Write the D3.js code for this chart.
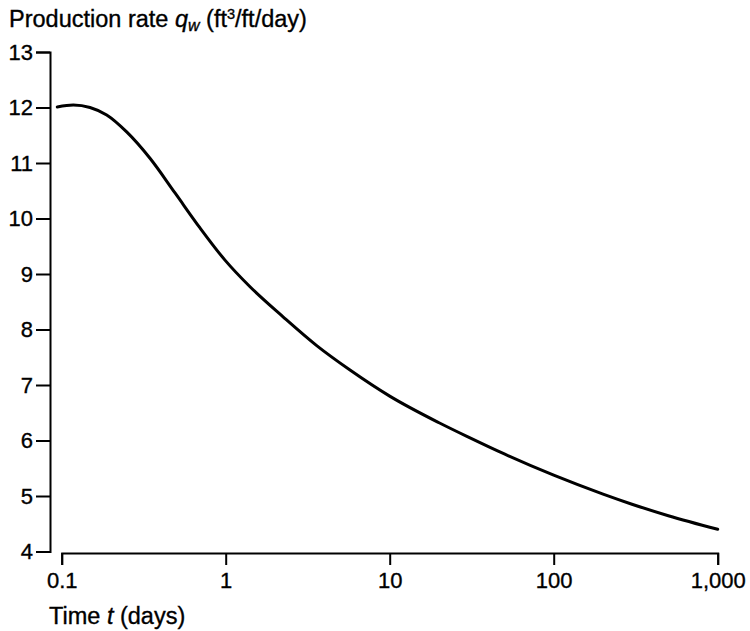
<!DOCTYPE html>
<html>
<head>
<meta charset="utf-8">
<script src="https://cdn.jsdelivr.net/npm/d3@7"></script>
<style>
  html, body { margin: 0; padding: 0; background: #fff; }
  svg { display: block; }
  text { font-family: "Liberation Sans", Arial, Helvetica, sans-serif; fill: #000; stroke: #000; stroke-width: 0.35px; }
</style>
</head>
<body>
<svg id="chart" width="750" height="631"></svg>
<script>
// Data
const timeDays = [0.094, 0.1177, 0.1488, 0.1881, 0.249, 0.3454, 0.4909, 0.6972, 0.99, 1.407, 2.245, 3.588, 5.728, 10, 20, 30, 50, 100, 200, 300, 500, 1000];
const rateQw   = [12.01, 12.045, 12.0, 11.865, 11.56, 11.085, 10.46, 9.83, 9.25, 8.77, 8.225, 7.71, 7.27, 6.80, 6.32, 6.065, 5.757, 5.375, 5.034, 4.852, 4.645, 4.40];
const xTicks = [0.1, 1, 10, 100, 1000];
const xTickLabels = ["0.1", "1", "10", "100", "1,000"];
const yTicks = [4, 5, 6, 7, 8, 9, 10, 11, 12, 13];

const svg = d3.select("#chart");
const tickFs = 22;
const labelFs = 23.5;

const x = d3.scaleLog().domain([0.1, 1000]).range([61.7, 717.7]);
const y = d3.scaleLinear().domain([4, 13]).range([551.5, 52]);

// Y axis
const yAxis = d3.axisLeft(y).tickValues(yTicks).tickFormat(d3.format("d")).tickSize(14).tickPadding(3);
const gy = svg.append("g").attr("transform", "translate(50,0)").call(yAxis);
gy.selectAll("path, line").attr("stroke", "#000").attr("stroke-width", 2);
gy.selectAll("text").style("font-size", tickFs + "px").attr("fill", "#000");

// X axis
const xAxis = d3.axisBottom(x).tickValues(xTicks).tickFormat((d, i) => xTickLabels[i]).tickSize(12).tickPadding(7);
const gx = svg.append("g").attr("transform", "translate(0,553)").call(xAxis);
gx.selectAll("path, line").attr("stroke", "#000").attr("stroke-width", 2);
gx.selectAll("text").style("font-size", tickFs + "px").attr("fill", "#000");

// Curve
const line = d3.line().x((d, i) => x(timeDays[i])).y((d, i) => y(rateQw[i])).curve(d3.curveMonotoneX);
svg.append("path").datum(rateQw).attr("d", line)
  .attr("fill", "none").attr("stroke", "#000").attr("stroke-width", 3).attr("stroke-linecap", "round");

// Title (y label)
const title = svg.append("text").attr("x", 9).attr("y", 27).style("font-size", labelFs + "px");
title.append("tspan").text("Production rate ");
title.append("tspan").style("font-style", "italic").text("q");
title.append("tspan").style("font-style", "italic").style("font-size", (labelFs * 0.68) + "px").attr("dy", 4).text("w");
title.append("tspan").attr("dy", -4).text(" (ft");
title.append("tspan").style("font-size", (labelFs * 0.62) + "px").attr("dy", -8).text("3");
title.append("tspan").attr("dy", 8).text("/ft/day)");

// X label
const xl = svg.append("text").attr("x", 49).attr("y", 624).style("font-size", labelFs + "px");
xl.append("tspan").text("Time ");
xl.append("tspan").style("font-style", "italic").text("t");
xl.append("tspan").text(" (days)");
</script>
</body>
</html>
